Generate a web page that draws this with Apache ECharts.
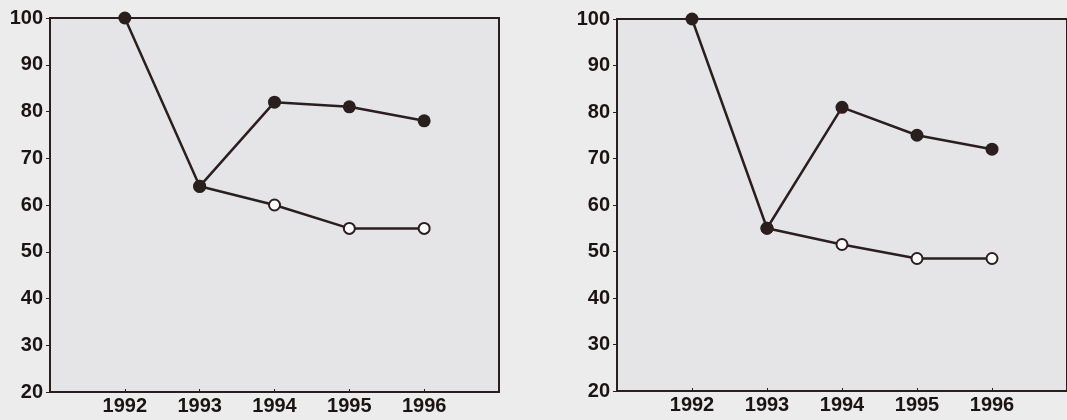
<!DOCTYPE html>
<html>
<head>
<meta charset="utf-8">
<script src="https://cdn.jsdelivr.net/npm/echarts@6/dist/echarts.min.js"></script>
<style>
  html, body { margin: 0; padding: 0; background: #ececec; }
  #chart { width: 1067px; height: 420px; }
</style>
</head>
<body>
<div id="chart"></div>
<script>
const years = [1992, 1993, 1994, 1995, 1996]
const yTicks = [20, 30, 40, 50, 60, 70, 80, 90, 100]

// left panel
const leftFilled = [100, 64, 82, 81, 78]
const leftOpen = [null, 64, 60, 55, 55]
// right panel
const rightFilled = [100, 55, 81, 75, 72]
const rightOpen = [null, 55, 51.5, 48.5, 48.5]

const ink = '#2a1f1f'
const labelFont = { color: '#1a1414', fontFamily: 'Liberation Sans', fontWeight: 'bold', fontSize: 20 }

const pairs = (vals) => years.map((y, i) => [y, vals[i]]).filter(p => p[1] != null)

const makeX = (gridIndex) => ({
  type: 'value', gridIndex, min: years[0] - 1, max: years[years.length - 1] + 1, interval: 1,
  splitLine: { show: false },
  axisLine: { lineStyle: { color: ink, width: 2 } },
  axisTick: { inside: true, length: 3, lineStyle: { color: ink, width: 1 } },
  axisLabel: { ...labelFont, margin: 4, showMinLabel: false, showMaxLabel: false, formatter: v => String(v) }
})

const makeY = (gridIndex) => ({
  type: 'value', gridIndex, min: yTicks[0], max: yTicks[yTicks.length - 1], interval: 10,
  splitLine: { show: false },
  axisLine: { lineStyle: { color: ink, width: 2 } },
  axisTick: { length: 4, lineStyle: { color: ink, width: 1 } },
  axisLabel: { ...labelFont, margin: 7 }
})

const openSeries = (idx, vals) => ({
  type: 'line', xAxisIndex: idx, yAxisIndex: idx, data: pairs(vals), z: 2,
  symbol: 'circle', symbolSize: 11, showAllSymbol: true,
  lineStyle: { color: ink, width: 2.5 },
  itemStyle: { color: '#ffffff', borderColor: ink, borderWidth: 2 },
  animation: false
})

const filledSeries = (idx, vals) => ({
  type: 'line', xAxisIndex: idx, yAxisIndex: idx, data: pairs(vals), z: 3,
  symbol: 'circle', symbolSize: 13, showAllSymbol: true,
  lineStyle: { color: ink, width: 2.5 },
  itemStyle: { color: ink, borderWidth: 0 },
  animation: false
})

const chart = echarts.init(document.getElementById('chart'))
chart.setOption({
  backgroundColor: '#ececec',
  grid: [
    { left: 50, top: 18, width: 449, height: 374, show: true, backgroundColor: '#e5e5e8', borderColor: ink, borderWidth: 2 },
    { left: 617, top: 19, width: 452, height: 372, show: true, backgroundColor: '#e5e5e8', borderColor: ink, borderWidth: 2 }
  ],
  xAxis: [makeX(0), makeX(1)],
  yAxis: [makeY(0), makeY(1)],
  series: [
    openSeries(0, leftOpen),
    filledSeries(0, leftFilled),
    openSeries(1, rightOpen),
    filledSeries(1, rightFilled)
  ]
})
</script>
</body>
</html>
